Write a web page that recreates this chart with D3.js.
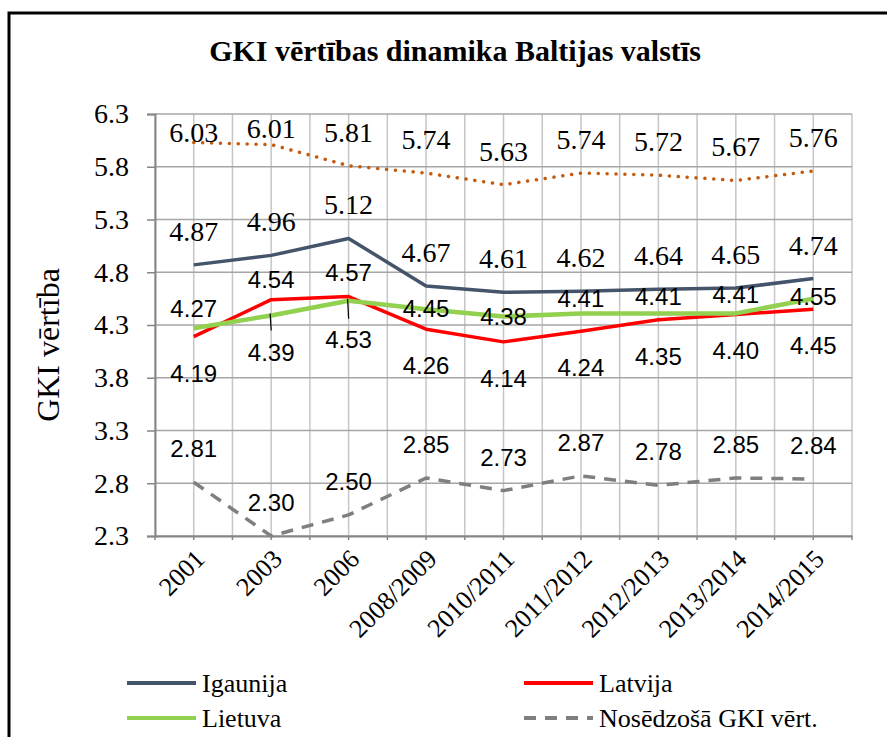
<!DOCTYPE html>
<html><head><meta charset="utf-8">
<script src="https://cdn.jsdelivr.net/npm/d3@7"></script>
<style>html,body{margin:0;padding:0;background:#fff;}svg{display:block;}
.serif{font-family:"Liberation Serif","Tinos","DejaVu Serif","Times New Roman",serif;}
.sans{font-family:"Liberation Sans","Arimo","DejaVu Sans",Arial,sans-serif;}
</style>
</head><body>
<script>
const categories = ["2001","2003","2006","2008/2009","2010/2011","2011/2012","2012/2013","2013/2014","2014/2015"];
const augstaka = [6.03,6.01,5.81,5.74,5.63,5.74,5.72,5.67,5.76];
const igaunija = [4.87,4.96,5.12,4.67,4.61,4.62,4.64,4.65,4.74];
const latvija  = [4.19,4.54,4.57,4.26,4.14,4.24,4.35,4.40,4.45];
const lietuva  = [4.27,4.39,4.53,4.45,4.38,4.41,4.41,4.41,4.55];
const nosedzosa = [2.81,2.30,2.50,2.85,2.73,2.87,2.78,2.85,2.84];
const yTicks = [2.3,2.8,3.3,3.8,4.3,4.8,5.3,5.8,6.3];
const seriesNames = ["Igaunija","Latvija","Lietuva","Nosēdzošā GKI vērt."];

const W=887,H=737;
const svg=d3.select("body").append("svg").attr("width",W).attr("height",H);
svg.append("rect").attr("x",0).attr("y",0).attr("width",W).attr("height",H).attr("fill","#fff");
svg.append("rect").attr("x",9).attr("y",13).attr("width",W+20).attr("height",H+20)
  .attr("fill","none").attr("stroke","#000").attr("stroke-width",3);

svg.append("text").attr("class","serif").attr("x",455).attr("y",61).attr("text-anchor","middle")
  .attr("font-weight","bold").attr("font-size",30)
  .text("GKI vērtības dinamika Baltijas valstīs");

const L=155,R=852,T=114,B=536;
const x=d3.scaleBand().domain(categories).range([L,R]).padding(0);
const cx=c=>x(c)+x.bandwidth()/2;
const y=d3.scaleLinear().domain([2.3,6.3]).range([B,T]);

const g=svg.append("g");
const vpos=[];
categories.forEach(c=>{vpos.push(x(c));vpos.push(cx(c));});
vpos.push(R);
g.selectAll("line.vg").data(vpos).enter().append("line")
  .attr("x1",d=>d).attr("x2",d=>d).attr("y1",T).attr("y2",B)
  .attr("stroke","#c6c6c6").attr("stroke-width",1.5);
g.selectAll("line.hg").data(yTicks).enter().append("line")
  .attr("x1",L).attr("x2",R).attr("y1",d=>y(d)).attr("y2",d=>y(d))
  .attr("stroke","#a6a6a6").attr("stroke-width",1.5);

const yAx=svg.append("g").attr("transform",`translate(${L},0)`)
  .call(d3.axisLeft(y).tickValues(yTicks).tickSize(8).tickPadding(18).tickFormat(d3.format(".1f")));
yAx.select(".domain").attr("stroke","#868686").attr("stroke-width",2);
yAx.selectAll(".tick line").attr("stroke","#868686").attr("stroke-width",1.5);
yAx.selectAll("text").attr("class","serif").attr("font-family",null).attr("font-size",28).attr("fill","#000");

const xAx=svg.append("g").attr("transform",`translate(0,${B})`)
  .call(d3.axisBottom(x).tickSize(0).tickFormat(""));
xAx.select(".domain").attr("stroke","#868686").attr("stroke-width",2);
svg.append("g").selectAll("line").data(vpos).enter().append("line")
  .attr("x1",d=>d).attr("x2",d=>d).attr("y1",B).attr("y2",B+4)
  .attr("stroke","#868686").attr("stroke-width",1.5);
svg.append("g").selectAll("text").data(categories).enter().append("text")
  .attr("class","serif")
  .attr("transform",d=>`translate(${cx(d)+6},${B+18}) rotate(-45)`)
  .attr("text-anchor","end").attr("dy","0.35em")
  .attr("font-size",26).text(d=>d);

svg.append("text").attr("class","serif").attr("transform","translate(59,345) rotate(-90)")
  .attr("text-anchor","middle").attr("font-size",32)
  .text("GKI vērtība");

const line=d3.line().x((d,i)=>cx(categories[i])).y(d=>y(d));
const series=[
  {data:augstaka,color:"#C55A11",w:3.5,dash:"0.1 8.8",cap:"round",font:"serif",off:-24,abs:{0:142,1:138}},
  {data:igaunija,color:"#44546A",w:3.5,dash:null,font:"serif",off:-24,over:{}},
  {data:nosedzosa,color:"#7f7f7f",w:3.5,dash:"12 9",font:"sans",off:-25,over:{}},
  {data:latvija,color:"#FF0000",w:3.5,dash:null,font:"sans",off:45,over:{1:-12,2:-16}},
  {data:lietuva,color:"#92D050",w:4.5,dash:null,font:"sans",off:8,over:{0:-11,1:45,2:47,5:-6,6:-8,7:-10,8:6}},
];
series.forEach(s=>{
  g.append("path").datum(s.data).attr("d",line).attr("fill","none")
    .attr("stroke",s.color).attr("stroke-width",s.w)
    .attr("stroke-dasharray",s.dash).attr("stroke-linecap",s.cap||"butt")
    .attr("stroke-linejoin","round");
});
[1,2].forEach(i=>{
  const px=cx(categories[i])-1, py=y(lietuva[i]);
  svg.append("line").attr("x1",px).attr("x2",px+1).attr("y1",py-2).attr("y2",py+(i==1?15:18))
    .attr("stroke","#000").attr("stroke-width",1.2);
});
series.forEach(s=>{
  svg.append("g").selectAll("text").data(s.data).enter().append("text")
    .attr("class",s.font)
    .attr("x",(d,i)=>cx(categories[i]))
    .attr("y",(d,i)=>{
      if(s.abs && s.abs[i]!==undefined) return s.abs[i];
      const o=s.over||{};
      return y(d)+(o[i]!==undefined?o[i]:s.off);
    })
    .attr("text-anchor","middle")
    .attr("font-size",s.font==="serif"?28:24).attr("fill","#000")
    .text(d=>d.toFixed(2));
});

const leg=[
  {name:seriesNames[0],color:"#44546A",dash:null,x:127,y:683},
  {name:seriesNames[1],color:"#FF0000",dash:null,x:524,y:683},
  {name:seriesNames[2],color:"#92D050",dash:null,x:127,y:718},
  {name:seriesNames[3],color:"#7f7f7f",dash:"12 9",x:524,y:718},
];
leg.forEach(l=>{
  svg.append("line").attr("x1",l.x).attr("x2",l.x+69).attr("y1",l.y).attr("y2",l.y)
    .attr("stroke",l.color).attr("stroke-width",4).attr("stroke-dasharray",l.dash);
  svg.append("text").attr("class","serif").attr("x",l.x+75).attr("y",l.y).attr("dy","0.35em")
    .attr("font-size",26).text(l.name);
});
</script>
</body></html>
